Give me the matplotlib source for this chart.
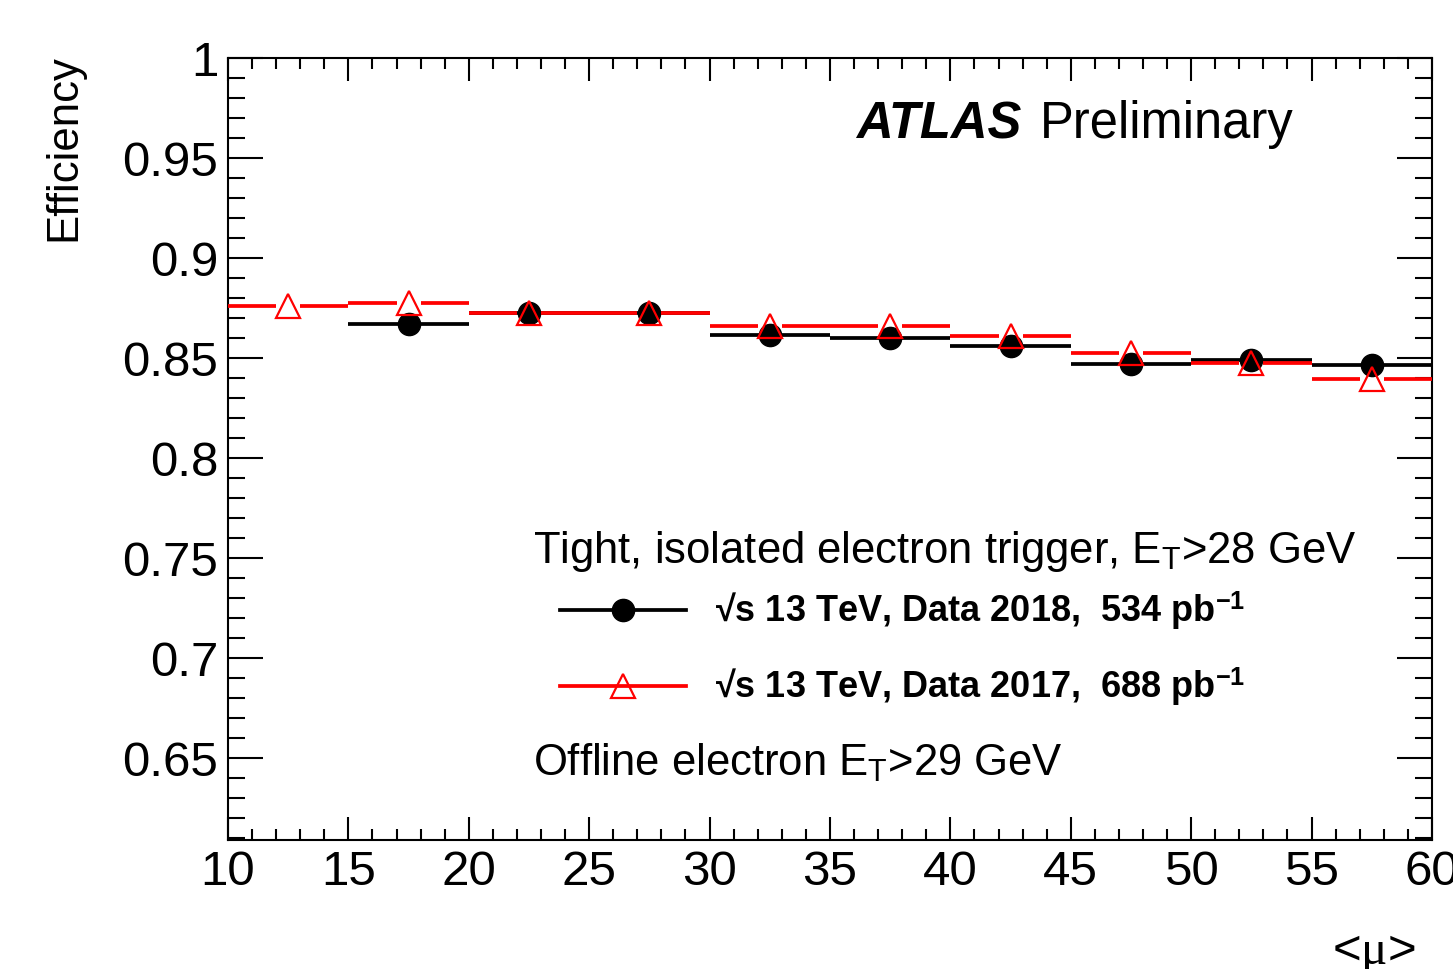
import numpy as np
import matplotlib
matplotlib.use("Agg")
import matplotlib.pyplot as plt
from matplotlib.lines import Line2D
from matplotlib.ticker import MultipleLocator, FormatStrFormatter

plt.rcParams['font.family'] = ['Liberation Sans', 'DejaVu Sans']
plt.rcParams['mathtext.fontset'] = 'custom'
plt.rcParams['mathtext.rm'] = 'Liberation Sans'
plt.rcParams['mathtext.it'] = 'Liberation Serif'   # only used for the mu
plt.rcParams['mathtext.bf'] = 'Liberation Sans:bold'

# ---- data ----
bin_lo = np.array([10, 15, 20, 25, 30, 35, 40, 45, 50, 55])
bin_hi = np.array([15, 20, 25, 30, 35, 40, 45, 50, 55, 60])
eff_2018 = np.array([np.nan, 0.8673, 0.8725, 0.8725, 0.8618, 0.8600, 0.8562, 0.8473, 0.8492, 0.8465])
eff_2017 = np.array([0.8760, 0.8774, 0.8725, 0.8725, 0.8663, 0.8663, 0.8612, 0.8525, 0.8475, 0.8397])

label_2018 = r'√s 13 TeV, Data 2018,  534 pb$^{\mathbf{-1}}$'
label_2017 = r'√s 13 TeV, Data 2017,  688 pb$^{\mathbf{-1}}$'

centers = 0.5 * (bin_lo + bin_hi)
gap = 0.5   # red line is interrupted around the open triangle
lw = 2.7

fig = plt.figure(figsize=(14.53, 9.69), dpi=100)
ax = fig.add_axes([0.1569, 0.1331, 0.8286, 0.8067])

# 2018 - black filled circles
ok = ~np.isnan(eff_2018)
ax.hlines(eff_2018[ok], bin_lo[ok], bin_hi[ok], colors='black', lw=lw, zorder=2)
ax.plot(centers[ok], eff_2018[ok], 'o', color='black', ms=16, zorder=3)

# 2017 - red open triangles
ax.hlines(eff_2017, bin_lo, centers - gap, colors='red', lw=lw, zorder=4)
ax.hlines(eff_2017, centers + gap, bin_hi, colors='red', lw=lw, zorder=4)
ax.plot(centers, eff_2017, '^', mfc='none', mec='red', mew=1.6, ms=17, zorder=5)

ax.set_xlim(10, 60)
ax.set_ylim(0.609, 1.0)

ax.xaxis.set_major_locator(MultipleLocator(5))
ax.xaxis.set_minor_locator(MultipleLocator(1))
ax.yaxis.set_major_locator(MultipleLocator(0.05))
ax.yaxis.set_minor_locator(MultipleLocator(0.01))
ax.yaxis.set_major_formatter(FormatStrFormatter('%g'))

ax.tick_params(axis='both', which='both', direction='in', top=True, right=True,
               width=1.5, labelsize=35.5, pad=7)
ax.tick_params(axis='y', which='major', length=25)
ax.tick_params(axis='y', which='minor', length=12.5)
ax.tick_params(axis='x', which='major', length=16.5)
ax.tick_params(axis='x', which='minor', length=8)
for s in ax.spines.values():
    s.set_linewidth(1.5)

ax.set_ylabel('Efficiency', fontsize=31.5, loc='top')
ax.yaxis.set_label_coords(-0.119, 1.005)
ax.set_xlabel(r'<$\mu$>', fontsize=35.5, loc='right')
ax.xaxis.set_label_coords(0.986, -0.116)

ax.text(0.5216, 0.898, 'ATLAS', transform=ax.transAxes, fontsize=36.5,
        fontweight='bold', fontstyle='italic', va='baseline', ha='left')
ax.text(0.674, 0.898, 'Preliminary', transform=ax.transAxes, fontsize=36.5,
        va='baseline', ha='left')

ax.text(0.2533, 0.3544, r'Tight, isolated electron trigger, E$_\mathrm{T}$>28 GeV',
        transform=ax.transAxes, fontsize=31.4, va='baseline', ha='left')
ax.text(0.2533, 0.0832, r'Offline electron E$_\mathrm{T}$>29 GeV',
        transform=ax.transAxes, fontsize=31.4, va='baseline', ha='left')

handles = [
    Line2D([], [], color='black', lw=lw, marker='o', ms=16),
    Line2D([], [], color='red', lw=lw, marker='^', mfc='none', mec='red', mew=1.6, ms=17),
]
ax.legend(handles, [label_2018, label_2017], loc='upper left',
          bbox_to_anchor=(0.2757, 0.3198), frameon=False, borderpad=0,
          borderaxespad=0, handlelength=3.5, handletextpad=0.8,
          labelspacing=0.94, numpoints=1,
          prop={'weight': 'bold', 'size': 26})

fig.savefig('out.png', dpi=100)
